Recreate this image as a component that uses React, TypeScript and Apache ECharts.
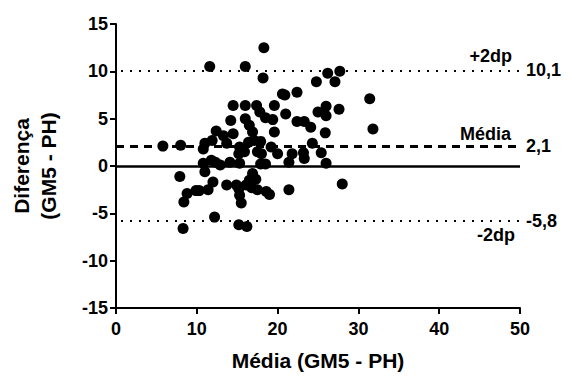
import React, { useEffect, useRef } from "react";
import * as echarts from "echarts";

// Bland-Altman points: [mean, difference]
const meanValues = [
  5.8, 8.0, 7.9, 8.3, 8.4, 8.8, 9.9, 10.3, 10.8, 11.0,
  10.8, 11.0, 11.4, 11.6, 11.9, 11.8, 12.0, 12.2, 12.3, 12.4,
  12.9, 13.3, 13.7, 13.7, 14.1, 14.2, 14.5, 14.5, 14.9, 15.2,
  15.3, 15.5, 15.2, 15.3, 15.3, 15.2, 15.9, 16.0, 16.0, 16.0,
  16.5, 16.9, 16.1, 16.5, 16.2, 16.4, 16.9, 17.3, 16.8, 17.5,
  17.1, 17.4, 17.8, 17.9, 17.5, 18.0, 17.9, 18.5, 18.2, 18.3,
  18.5, 18.6, 19.0, 19.2, 19.4, 19.6, 19.6, 20.0, 20.6, 20.9,
  21.0, 21.4, 21.4, 21.8, 22.4, 22.4, 23.3, 23.2, 23.3, 24.1,
  24.3, 24.8, 25.0, 25.4, 25.9, 26.0, 26.0, 26.0, 26.2, 27.1,
  27.6, 27.7, 28.0, 31.4, 31.8
];
const diffValues = [
  2.1, 2.2, -1.1, -6.6, -3.8, -2.9, -2.6, -2.6, 1.8, 2.4,
  0.3, -0.6, -2.5, 10.5, 2.7, 0.6, -1.7, -5.4, 0.4, 3.7,
  0.1, 3.2, 2.4, -2.0, 0.4, 4.8, 6.4, 3.4, -2.0, -2.4,
  -3.1, -3.9, -6.2, 2.0, 0.3, 1.3, 1.5, 10.5, 6.4, 5.0,
  4.3, 3.6, -2.0, -1.5, -6.4, 2.5, -0.8, -1.4, -2.3, -2.5,
  2.7, 6.4, 5.7, 2.6, 1.5, 1.3, 0.2, 0.2, 9.3, 12.5,
  5.1, -2.7, -3.0, 2.0, 4.9, 6.4, 3.6, 1.3, 7.6, 7.5,
  5.5, 0.4, -2.5, 1.3, 7.8, 4.7, 4.7, 1.4, 0.8, 4.1,
  2.4, 8.9, 5.7, 1.4, 3.5, 6.3, 5.3, 0.3, 9.8, 8.9,
  6.0, 10.0, -1.9, 7.1, 3.9
];

const meanBias = 2.1;
const upperLimit = 10.1;
const lowerLimit = -5.8;
const xTicks = { min: 0, max: 50, interval: 10 };
const yTicks = { min: -15, max: 15, interval: 5 };

const FONT = "'Liberation Sans', Arial, Helvetica, sans-serif";

export default function App() {
  const ref = useRef<HTMLDivElement>(null);
  useEffect(() => {
    if (!ref.current) return;
    const chart = echarts.init(ref.current, null, { renderer: "svg" });
    const points = meanValues.map((m, i) => [m, diffValues[i]]);
    const lbl = { fontFamily: FONT, fontWeight: "bold", fontSize: 18, color: "#000" };
    chart.setOption({
      animation: false,
      backgroundColor: "#fff",
      grid: { left: 112, right: 51, top: 24, bottom: 65 },
      xAxis: {
        type: "value",
        min: xTicks.min,
        max: xTicks.max,
        interval: xTicks.interval,
        name: "Média (GM5 - PH)",
        nameLocation: "middle",
        nameGap: 42,
        nameTextStyle: { fontFamily: FONT, fontWeight: "bold", fontSize: 21, color: "#000" },
        axisLine: { onZero: false, lineStyle: { color: "#000", width: 2 } },
        axisTick: { show: true, length: 6, lineStyle: { color: "#000", width: 2 } },
        axisLabel: { ...lbl, margin: 12 },
        splitLine: { show: false },
      },
      yAxis: {
        type: "value",
        min: yTicks.min,
        max: yTicks.max,
        interval: yTicks.interval,
        name: "Diferença\n(GM5 - PH)",
        nameLocation: "middle",
        nameGap: 54,
        nameTextStyle: { fontFamily: FONT, fontWeight: "bold", fontSize: 21, color: "#000", lineHeight: 27 },
        axisLine: { onZero: false, lineStyle: { color: "#000", width: 2 } },
        axisTick: { show: true, length: 6, lineStyle: { color: "#000", width: 2 } },
        axisLabel: { ...lbl, margin: 8 },
        splitLine: { show: false },
      },
      series: [
        {
          type: "scatter",
          data: points,
          symbol: "circle",
          symbolSize: 11,
          itemStyle: { color: "#000", opacity: 1 },
          z: 5,
          markLine: {
            silent: true,
            symbol: "none",
            animation: false,
            data: [
              {
                yAxis: 0,
                lineStyle: { color: "#000", width: 2.5, type: "solid" },
                label: { show: false },
              },
              {
                yAxis: meanBias,
                lineStyle: { color: "#000", width: 3, type: [8, 6] },
                label: { show: true, position: "end", formatter: "2,1", distance: 6, ...lbl },
              },
              {
                yAxis: meanBias,
                lineStyle: { color: "#000", width: 3, type: [8, 6] },
                label: { show: true, position: "insideEndTop", formatter: "Média", distance: [9, 3], ...lbl },
              },
              {
                yAxis: upperLimit,
                lineStyle: { color: "#000", width: 2, type: [2, 7], dashOffset: -5 },
                label: { show: true, position: "end", formatter: "10,1", distance: 6, ...lbl },
              },
              {
                yAxis: upperLimit,
                lineStyle: { color: "#000", width: 2, type: [2, 7], dashOffset: -5 },
                label: { show: true, position: "insideEndTop", formatter: "+2dp", distance: [8, 5], ...lbl },
              },
              {
                yAxis: lowerLimit,
                lineStyle: { color: "#000", width: 2, type: [2, 7], dashOffset: -5 },
                label: { show: true, position: "end", formatter: "-5,8", distance: 6, ...lbl },
              },
              {
                yAxis: lowerLimit,
                lineStyle: { color: "#000", width: 2, type: [2, 7], dashOffset: -5 },
                label: { show: true, position: "insideEndBottom", formatter: "-2dp", distance: [5, 5], ...lbl },
              },
            ],
          },
        },
      ],
    });
    return () => chart.dispose();
  }, []);
  return <div ref={ref} style={{ width: 571, height: 376, position: "absolute", left: 0, top: 0 }} />;
}
